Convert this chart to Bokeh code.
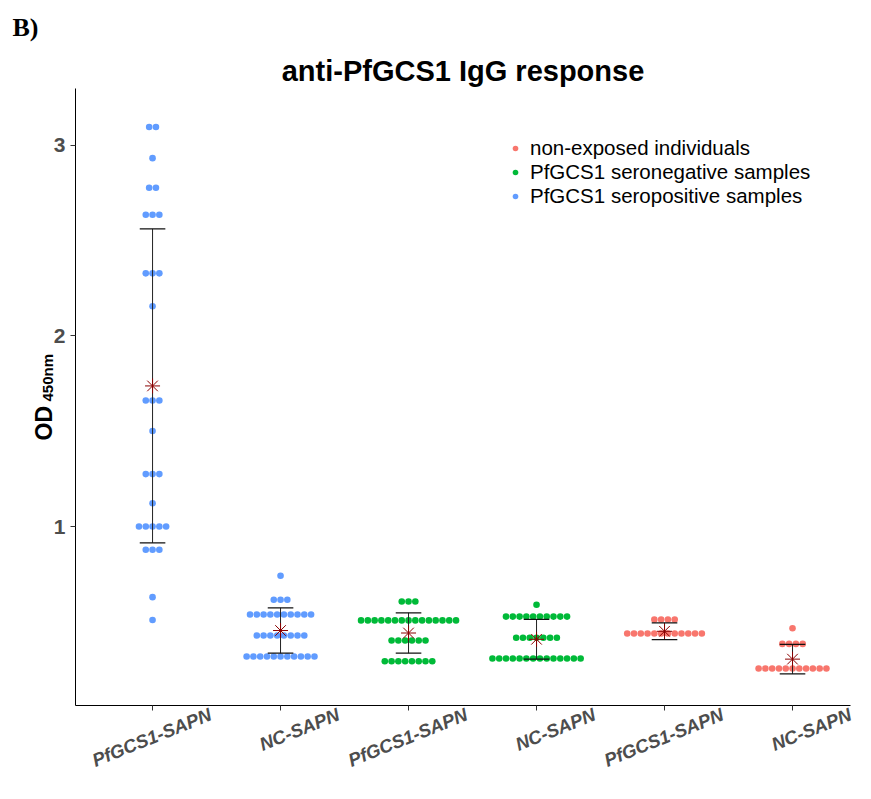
import math
from bokeh.plotting import figure
from bokeh.models import (Range1d, FixedTicker, Label, Legend, LegendItem, ColumnDataSource,
                          LinearAxis, Title)
from bokeh.embed import file_html
from bokeh.resources import INLINE

# ---------------- data ----------------
categories = ["PfGCS1-SAPN", "NC-SAPN", "PfGCS1-SAPN", "NC-SAPN", "PfGCS1-SAPN", "NC-SAPN"]
group_kind = ["pos", "pos", "neg", "neg", "non", "non"]

# OD values (bin levels) and number of samples at each level, per group
g1_od = [3.095, 2.932, 2.777, 2.635, 2.328, 2.156, 1.662, 1.502, 1.276, 1.123, 1.001, 0.879, 0.631, 0.511]
g1_n = [2, 1, 2, 3, 3, 1, 3, 1, 3, 1, 5, 3, 1, 1]
g2_od = [0.743, 0.617, 0.540, 0.430, 0.320]
g2_n = [1, 3, 10, 8, 11]
g3_od = [0.608, 0.509, 0.404, 0.295]
g3_n = [3, 15, 6, 8]
g4_od = [0.591, 0.529, 0.418, 0.309]
g4_n = [1, 10, 7, 14]
g5_od = [0.514, 0.440]
g5_n = [4, 12]
g6_od = [0.468, 0.386, 0.257]
g6_n = [1, 4, 11]

group_means = [1.738, 0.456, 0.443, 0.410, 0.452, 0.306]
group_sds = [0.823, 0.119, 0.106, 0.104, 0.044, 0.077]

legend_labels = {"non": "non-exposed individuals",
                 "neg": "PfGCS1 seronegative samples",
                 "pos": "PfGCS1 seropositive samples"}
colors = {"non": "#F8766D", "neg": "#00BA38", "pos": "#619CFF"}

# ---------------- figure ----------------
FONT = "Liberation Sans"
X0, X1 = 0.398, 6.453
p = figure(width=855, height=783, output_backend="svg", toolbar_location=None, title=None,
           x_range=Range1d(X0, X1), y_range=Range1d(0.063, 3.297),
           min_border_left=75, min_border_right=5, min_border_top=88, min_border_bottom=78)
p.outline_line_color = None
p.xgrid.visible = False
p.ygrid.visible = False
p.background_fill_color = "white"
p.border_fill_color = "white"

# y axis
p.yaxis.ticker = FixedTicker(ticks=[1, 2, 3])
p.yaxis.major_label_text_font = FONT
p.yaxis.major_label_text_font_size = "21px"
p.yaxis.major_label_text_font_style = "bold"
p.yaxis.major_label_text_color = "#4D4D4D"
p.yaxis.minor_tick_line_color = None
p.yaxis.major_tick_in = 0
p.yaxis.major_tick_out = 5
p.yaxis.major_tick_line_color = "#333333"
p.yaxis.axis_line_color = "#000000"
p.yaxis.major_label_standoff = 5

# x axis: line + ticks only
p.xaxis.ticker = FixedTicker(ticks=[1, 2, 3, 4, 5, 6])
p.xaxis.major_label_overrides = {i + 1: "" for i in range(6)}
p.xaxis.major_label_text_font_size = "0px"
p.xaxis.major_label_standoff = 0
p.xaxis.minor_tick_line_color = None
p.xaxis.major_tick_in = 0
p.xaxis.major_tick_out = 5
p.xaxis.major_tick_line_color = "#333333"
p.xaxis.axis_line_color = "#000000"

# x tick labels: a second axis whose range is shifted so the (right-anchored)
# rotated labels end up centred under the groups
shift = 0.452
p.extra_x_ranges = {"lab": Range1d(X0 - shift, X1 - shift)}
lab_axis = LinearAxis(x_range_name="lab", ticker=FixedTicker(ticks=[1, 2, 3, 4, 5, 6]),
                      major_label_overrides={i + 1: c for i, c in enumerate(categories)})
lab_axis.axis_line_color = None
lab_axis.major_tick_line_color = None
lab_axis.minor_tick_line_color = None
lab_axis.major_tick_in = 0
lab_axis.major_tick_out = 0
lab_axis.major_label_standoff = 3
lab_axis.major_label_orientation = math.radians(22)
lab_axis.major_label_text_font = FONT
lab_axis.major_label_text_font_size = "18.5px"
lab_axis.major_label_text_font_style = "bold italic"
lab_axis.major_label_text_color = "#4D4D4D"
p.add_layout(lab_axis, "below")

# dots (centered dot-plot stacking)
groups_od = [g1_od, g2_od, g3_od, g4_od, g5_od, g6_od]
groups_n = [g1_n, g2_n, g3_n, g4_n, g5_n, g6_n]
dot_step = 0.053
pts = {k: {"x": [], "y": []} for k in colors}
for gi, (ods, ns) in enumerate(zip(groups_od, groups_n)):
    kind = group_kind[gi]
    for v, n in zip(ods, ns):
        for k in range(n):
            pts[kind]["x"].append(gi + 1 + (k - (n - 1) / 2) * dot_step)
            pts[kind]["y"].append(v)

renderers = {}
for kind in ["non", "neg", "pos"]:
    src = ColumnDataSource(pts[kind])
    renderers[kind] = p.scatter("x", "y", source=src, size=6.6, marker="circle",
                                fill_color=colors[kind], line_color=None)

# error bars (mean +/- SD)
gx = [i + 1 for i in range(6)]
lo = [m - s for m, s in zip(group_means, group_sds)]
hi = [m + s for m, s in zip(group_means, group_sds)]
cap = 0.1
p.segment(x0=gx, y0=lo, x1=gx, y1=hi, line_color="#222222", line_width=1)
p.segment(x0=[x - cap for x in gx], y0=hi, x1=[x + cap for x in gx], y1=hi, line_color="#111111", line_width=1.2)
p.segment(x0=[x - cap for x in gx], y0=lo, x1=[x + cap for x in gx], y1=lo, line_color="#111111", line_width=1.2)
p.scatter(x=gx, y=group_means, marker="asterisk", size=15, line_color="#8B0000", line_width=1)

# legend
legend = Legend(items=[LegendItem(label=legend_labels[k], renderers=[renderers[k]]) for k in ["non", "neg", "pos"]],
                location=(433, 497), orientation="vertical")
legend.label_text_font = FONT
legend.label_text_font_size = "20.5px"
legend.label_text_color = "black"
legend.label_height = 20
legend.spacing = -2
legend.glyph_width = 14
legend.glyph_height = 14
legend.label_standoff = 8
legend.padding = 0
legend.margin = 0
legend.border_line_color = None
legend.background_fill_alpha = 0
p.add_layout(legend)

# titles
p.add_layout(Title(text="anti-PfGCS1 IgG response", align="center", standoff=4,
                   text_font=FONT, text_font_size="29px", text_font_style="bold", text_color="black"), "above")
p.add_layout(Title(text="B)", align="left", offset=-63, standoff=18,
                   text_font="Liberation Serif", text_font_size="26px", text_font_style="bold",
                   text_color="black"), "above")

# y axis title OD_450nm (labels in the left side panel)
p.add_layout(Label(x=19.5, y=265, x_units="screen", y_units="screen", text="OD",
                   angle=math.pi / 2, text_align="left", text_baseline="alphabetic",
                   text_font=FONT, text_font_size="23px", text_font_style="bold", text_color="black"), "left")
p.add_layout(Label(x=40.0, y=304, x_units="screen", y_units="screen", text="450nm",
                   angle=math.pi / 2, text_align="left", text_baseline="alphabetic",
                   text_font=FONT, text_font_size="15px", text_font_style="bold", text_color="black"), "left")

open("out.html", "w").write(file_html(p, INLINE))
